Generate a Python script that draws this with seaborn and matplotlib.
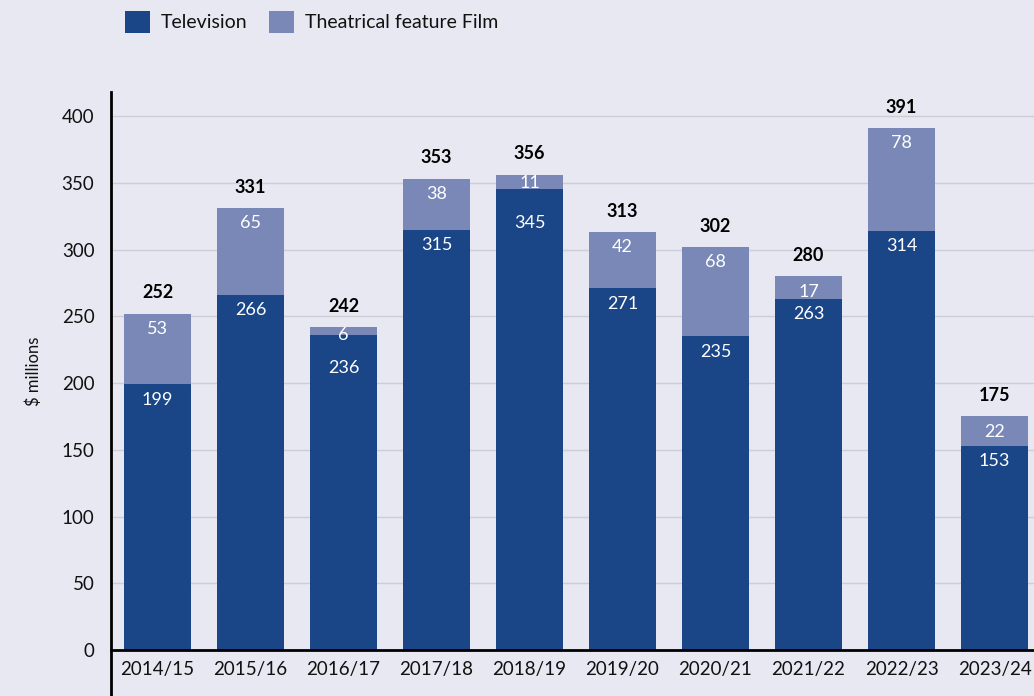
import numpy as np
import pandas as pd
import seaborn as sns
import matplotlib.pyplot as plt
from matplotlib.patches import Patch

years = ["2014/15", "2015/16", "2016/17", "2017/18", "2018/19",
         "2019/20", "2020/21", "2021/22", "2022/23", "2023/24"]
television = [199, 266, 236, 315, 345, 271, 235, 263, 314, 153]
film = [53, 65, 6, 38, 11, 42, 68, 17, 78, 22]
totals = [252, 331, 242, 353, 356, 313, 302, 280, 391, 175]

BG = "#E8E8F2"
DARK = "#1A4587"
LIGHT = "#7A88B7"

sns.set_theme(style="whitegrid")
plt.rcParams["font.family"] = ["Lato", "DejaVu Sans"]

df = pd.DataFrame({"year": years, "tv": television, "film": film, "total": totals})

fig = plt.figure(figsize=(10.34, 6.96), dpi=100, facecolor=BG)
ax = fig.add_axes([0.1074, 0.0661, 0.8994, 0.8017])
ax.set_facecolor(BG)

# stacked bars: full height in light colour, television drawn over it
sns.barplot(data=df, x="year", y="total", color=LIGHT, saturation=1,
            width=0.72, ax=ax, order=years, linewidth=0)
sns.barplot(data=df, x="year", y="tv", color=DARK, saturation=1,
            width=0.72, ax=ax, order=years, linewidth=0)

ax.set_ylim(0, 418)
ax.set_xlim(-0.5, 9.5)
ax.set_yticks(range(0, 401, 50))
ax.grid(axis="y", color="#CDCDD6", linewidth=1)
ax.grid(axis="x", visible=False)
ax.set_axisbelow(True)
ax.set_xlabel("")
ax.set_ylabel("$ millions", fontsize=12, labelpad=14, color="#111111")
ax.tick_params(axis="both", length=0, labelsize=13.5, colors="#111111")
ax.tick_params(axis="x", pad=8)
ax.tick_params(axis="y", pad=12)

for s in ["top", "right"]:
    ax.spines[s].set_visible(False)
ax.spines["bottom"].set_color("black")
ax.spines["bottom"].set_linewidth(2)
ax.spines["left"].set_color("black")
ax.spines["left"].set_linewidth(2)
ax.spines["left"].set_bounds(-36, 418)

film_bars = ax.patches[:len(years)]
for i, (tv, fm, tot) in enumerate(zip(television, film, totals)):
    small = fm < 15
    # film label near top of its segment, clipped to the bar
    t = ax.annotate(str(fm), (i, tot), xytext=(0, -6 if small else -11),
                    textcoords="offset points", ha="center", va="center",
                    color="white", fontsize=13)
    t.set_clip_path(film_bars[i])
    ax.annotate(str(tv), (i, tv), xytext=(0, -24 if small else -11),
                textcoords="offset points", ha="center", va="center",
                color="white", fontsize=13)
    ax.annotate(str(tot), (i, tot), xytext=(0, 15),
                textcoords="offset points", ha="center", va="center",
                color="black", fontsize=13, fontweight="bold")

handles = [Patch(facecolor=DARK, edgecolor="none", label="Television"),
           Patch(facecolor=LIGHT, edgecolor="none", label="Theatrical feature Film")]
fig.legend(handles=handles, loc="upper left", bbox_to_anchor=(0.106, 1.006),
           ncol=2, frameon=False, fontsize=14, handlelength=1.3,
           handleheight=1.3, handletextpad=0.55, columnspacing=1.1,
           borderpad=0.3, labelcolor="#111111")

fig.savefig("out.png", dpi=100, facecolor=BG)
